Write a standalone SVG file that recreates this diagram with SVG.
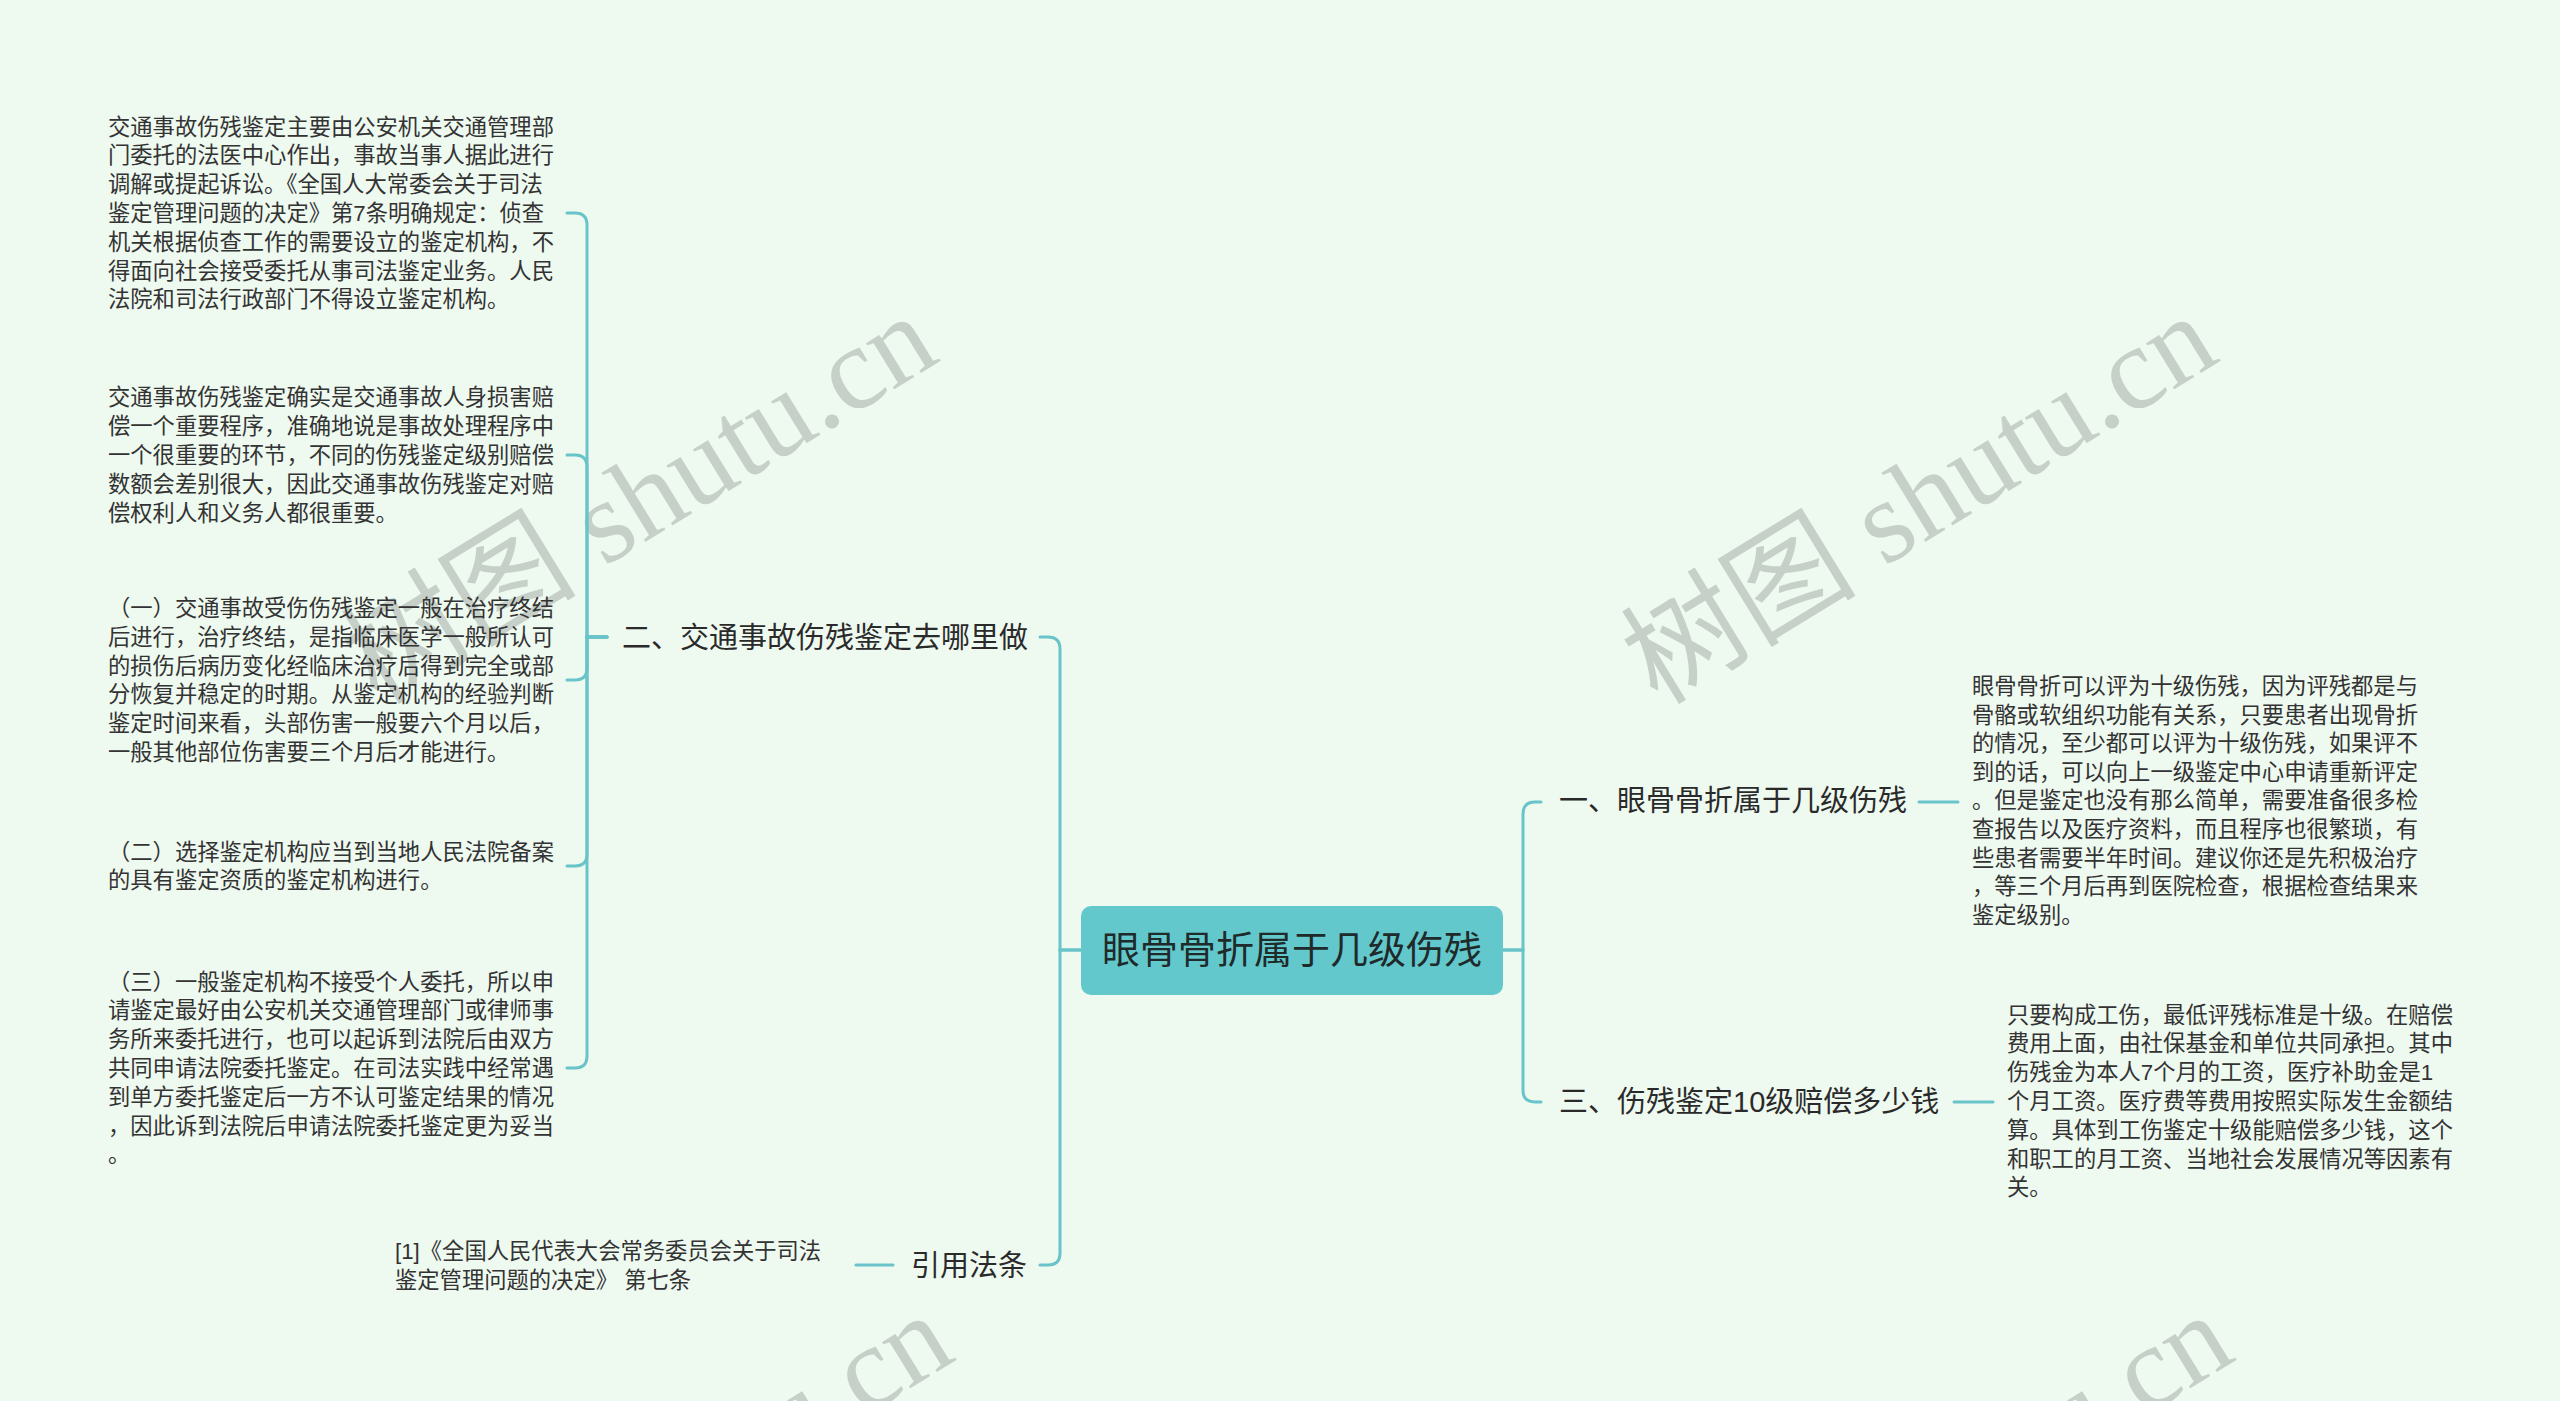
<svg xmlns="http://www.w3.org/2000/svg" width="2560" height="1401" viewBox="0 0 2560 1401">
<style>
.bg{fill:#EEF9F0}
.wm{font-family:"Liberation Serif","Noto Sans CJK SC",serif;font-size:118px;fill:#C6D0C9}
.conn{fill:none;stroke:#68C4C9;stroke-width:3;stroke-linecap:round}
.root-box{fill:#63C8CC}
.root-text{font-family:"Liberation Sans","Noto Sans CJK SC",sans-serif;font-size:38px;fill:#1F2A2A}
.branch{font-family:"Liberation Sans","Noto Sans CJK SC",sans-serif;font-size:29px;fill:#2A2A2A}
.leaf{font-family:"Liberation Sans","Noto Sans CJK SC",sans-serif;font-size:22.3px;fill:#333333}
</style>
<rect class="bg" x="0" y="0" width="2560" height="1401"/>
<g id="watermarks">
<text class="wm" x="660" y="533" text-anchor="middle" transform="rotate(-31.5 660 533)">树图 shutu.cn</text>
<text class="wm" x="1940" y="533" text-anchor="middle" transform="rotate(-31.5 1940 533)">树图 shutu.cn</text>
<text class="wm" x="676" y="1532" text-anchor="middle" transform="rotate(-31.5 676 1532)">树图 shutu.cn</text>
<text class="wm" x="1956" y="1532" text-anchor="middle" transform="rotate(-31.5 1956 1532)">树图 shutu.cn</text>
</g>
<g id="connectors">
<path class="conn" d="M1081,950 H1060 V649 Q1060,637 1048,637 H1040"/>
<path class="conn" d="M1081,950 H1060 V1253 Q1060,1265 1048,1265 H1040"/>
<path class="conn" d="M1503,950 H1523 V814 Q1523,802 1535,802 H1541"/>
<path class="conn" d="M1503,950 H1523 V1090 Q1523,1102 1535,1102 H1541"/>
<path class="conn" d="M607,637 H587 V225 Q587,213 575,213 H567"/>
<path class="conn" d="M607,637 H587 V467 Q587,455 575,455 H567"/>
<path class="conn" d="M607,637 H587 V668 Q587,680 575,680 H567"/>
<path class="conn" d="M607,637 H587 V854 Q587,866 575,866 H567"/>
<path class="conn" d="M607,637 H587 V1056 Q587,1068 575,1068 H567"/>
<path class="conn" d="M1919,802 H1958"/>
<path class="conn" d="M1954,1102 H1993"/>
<path class="conn" d="M856,1265 H893"/>
</g>
<g id="root">
<rect class="root-box" x="1081" y="906" width="422" height="89" rx="10"/>
<text class="root-text" x="1292" y="963" text-anchor="middle">眼骨骨折属于几级伤残</text>
</g>
<g id="branch1">
<text class="branch" x="1559" y="811">一、眼骨骨折属于几级伤残</text>
</g>
<g id="branch1-detail">
<text class="leaf">
<tspan x="1972" y="694">眼骨骨折可以评为十级伤残，因为评残都是与</tspan>
<tspan x="1972" y="722.6">骨骼或软组织功能有关系，只要患者出现骨折</tspan>
<tspan x="1972" y="751.2">的情况，至少都可以评为十级伤残，如果评不</tspan>
<tspan x="1972" y="779.8">到的话，可以向上一级鉴定中心申请重新评定</tspan>
<tspan x="1972" y="808.4">。但是鉴定也没有那么简单，需要准备很多检</tspan>
<tspan x="1972" y="837">查报告以及医疗资料，而且程序也很繁琐，有</tspan>
<tspan x="1972" y="865.6">些患者需要半年时间。建议你还是先积极治疗</tspan>
<tspan x="1972" y="894.2">，等三个月后再到医院检查，根据检查结果来</tspan>
<tspan x="1972" y="922.8">鉴定级别。</tspan>
</text>
</g>
<g id="branch3">
<text class="branch" x="1559" y="1112">三、伤残鉴定10级赔偿多少钱</text>
</g>
<g id="branch3-detail">
<text class="leaf">
<tspan x="2007" y="1022.6">只要构成工伤，最低评残标准是十级。在赔偿</tspan>
<tspan x="2007" y="1051.4">费用上面，由社保基金和单位共同承担。其中</tspan>
<tspan x="2007" y="1080.2">伤残金为本人7个月的工资，医疗补助金是1</tspan>
<tspan x="2007" y="1109">个月工资。医疗费等费用按照实际发生金额结</tspan>
<tspan x="2007" y="1137.8">算。具体到工伤鉴定十级能赔偿多少钱，这个</tspan>
<tspan x="2007" y="1166.6">和职工的月工资、当地社会发展情况等因素有</tspan>
<tspan x="2007" y="1195.4">关。</tspan>
</text>
</g>
<g id="branch2">
<text class="branch" x="622" y="648">二、交通事故伤残鉴定去哪里做</text>
</g>
<g id="leaf1">
<text class="leaf">
<tspan x="108" y="134.6">交通事故伤残鉴定主要由公安机关交通管理部</tspan>
<tspan x="108" y="163.4">门委托的法医中心作出，事故当事人据此进行</tspan>
<tspan x="108" y="192.2">调解或提起诉讼。《全国人大常委会关于司法</tspan>
<tspan x="108" y="221">鉴定管理问题的决定》第7条明确规定：侦查</tspan>
<tspan x="108" y="249.8">机关根据侦查工作的需要设立的鉴定机构，不</tspan>
<tspan x="108" y="278.6">得面向社会接受委托从事司法鉴定业务。人民</tspan>
<tspan x="108" y="307.4">法院和司法行政部门不得设立鉴定机构。</tspan>
</text>
</g>
<g id="leaf2">
<text class="leaf">
<tspan x="108" y="405.4">交通事故伤残鉴定确实是交通事故人身损害赔</tspan>
<tspan x="108" y="434.2">偿一个重要程序，准确地说是事故处理程序中</tspan>
<tspan x="108" y="463">一个很重要的环节，不同的伤残鉴定级别赔偿</tspan>
<tspan x="108" y="491.8">数额会差别很大，因此交通事故伤残鉴定对赔</tspan>
<tspan x="108" y="520.6">偿权利人和义务人都很重要。</tspan>
</text>
</g>
<g id="leaf3">
<text class="leaf">
<tspan x="108" y="616">（一）交通事故受伤伤残鉴定一般在治疗终结</tspan>
<tspan x="108" y="644.8">后进行，治疗终结，是指临床医学一般所认可</tspan>
<tspan x="108" y="673.6">的损伤后病历变化经临床治疗后得到完全或部</tspan>
<tspan x="108" y="702.4">分恢复并稳定的时期。从鉴定机构的经验判断</tspan>
<tspan x="108" y="731.2">鉴定时间来看，头部伤害一般要六个月以后，</tspan>
<tspan x="108" y="760">一般其他部位伤害要三个月后才能进行。</tspan>
</text>
</g>
<g id="leaf4">
<text class="leaf">
<tspan x="108" y="859.6">（二）选择鉴定机构应当到当地人民法院备案</tspan>
<tspan x="108" y="888.4">的具有鉴定资质的鉴定机构进行。</tspan>
</text>
</g>
<g id="leaf5">
<text class="leaf">
<tspan x="108" y="989.6">（三）一般鉴定机构不接受个人委托，所以申</tspan>
<tspan x="108" y="1018.4">请鉴定最好由公安机关交通管理部门或律师事</tspan>
<tspan x="108" y="1047.2">务所来委托进行，也可以起诉到法院后由双方</tspan>
<tspan x="108" y="1076">共同申请法院委托鉴定。在司法实践中经常遇</tspan>
<tspan x="108" y="1104.8">到单方委托鉴定后一方不认可鉴定结果的情况</tspan>
<tspan x="108" y="1133.6">，因此诉到法院后申请法院委托鉴定更为妥当</tspan>
<tspan x="108" y="1162.4">。</tspan>
</text>
</g>
<g id="branch4">
<text class="branch" x="911" y="1276">引用法条</text>
</g>
<g id="citation">
<text class="leaf">
<tspan x="395" y="1259">[1]《全国人民代表大会常务委员会关于司法</tspan>
<tspan x="395" y="1288">鉴定管理问题的决定》 第七条</tspan>
</text>
</g>
</svg>
